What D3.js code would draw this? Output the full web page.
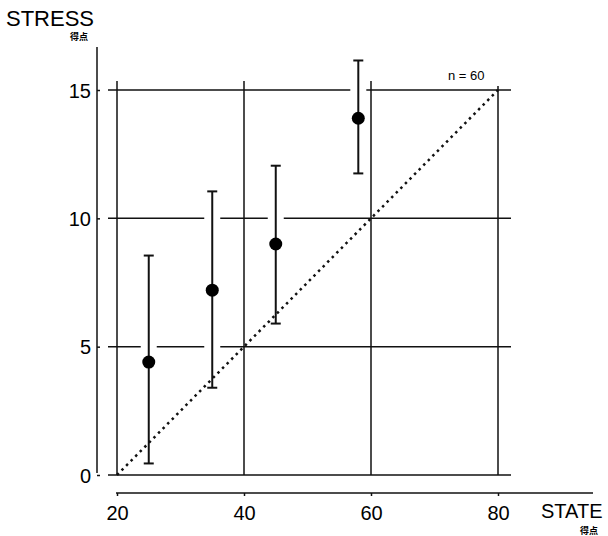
<!DOCTYPE html>
<html><head><meta charset="utf-8">
<script src="https://cdn.jsdelivr.net/npm/d3@7"></script>
<style>body{margin:0;background:#fff}svg{display:block}text{font-family:"Liberation Sans",Arial,sans-serif;fill:#000}</style>
</head><body>
<svg id="c" width="608" height="536"></svg>
<script>
const stateVals = [25, 35, 45, 58];
const stressMean = [4.4, 7.2, 9.0, 13.9];
const stressLow = [0.45, 3.4, 5.9, 11.75];
const stressHigh = [8.55, 11.05, 12.05, 16.15];
const xTicks = [20, 40, 60, 80];
const yTicks = [0, 5, 10, 15];
const sampleNote = "n = 60";

const svg = d3.select("#c");
const x = d3.scaleLinear().domain([20, 80]).range([117, 498]);
const y = d3.scaleLinear().domain([0, 15]).range([475, 90]);

// horizontal grid lines
svg.append("g").selectAll("line").data(yTicks).join("line")
  .attr("x1", 108).attr("x2", 511)
  .attr("y1", d => y(d)).attr("y2", d => y(d))
  .attr("stroke", "#111").attr("stroke-width", 1.5);
// vertical grid lines
svg.append("g").selectAll("line").data(xTicks).join("line")
  .attr("x1", d => x(d)).attr("x2", d => x(d))
  .attr("y1", d => d === 80 ? 86 : 81).attr("y2", y(0))
  .attr("stroke", "#111").attr("stroke-width", 1.5);

// left axis
const yAxis = d3.axisLeft(y).tickValues(yTicks).tickSize(-3).tickPadding(8);
const ga = svg.append("g").attr("transform", "translate(97,0)").call(yAxis);
ga.select(".domain").attr("d", `M-0,${y(0)-2}V47`).attr("stroke", "#111").attr("stroke-width", 1.5);
ga.selectAll(".tick line").attr("stroke", "#111").attr("stroke-width", 1.5);
ga.selectAll(".tick text").attr("font-size", 20).attr("font-family", "Liberation Sans, Arial, sans-serif").attr("dy", "0.36em").attr("x", -6);

// bottom axis
const xAxis = d3.axisBottom(x).tickValues(xTicks).tickSize(3).tickPadding(10);
const gb = svg.append("g").attr("transform", "translate(0,493)").call(xAxis);
gb.select(".domain").attr("d", "M116,0H593").attr("stroke", "#111").attr("stroke-width", 1.5);
gb.selectAll(".tick line").attr("stroke", "#111").attr("stroke-width", 1.5);
gb.selectAll(".tick text").attr("font-size", 20).attr("font-family", "Liberation Sans, Arial, sans-serif").attr("y", 13).attr("dy", "0.71em");

// white gaps behind error bars
svg.append("g").selectAll("line").data(stateVals).join("line")
  .attr("x1", d => x(d)).attr("x2", d => x(d))
  .attr("y1", (d, i) => y(stressHigh[i])).attr("y2", (d, i) => y(stressLow[i]))
  .attr("stroke", "#fff").attr("stroke-width", 16);

// diagonal
svg.append("line")
  .attr("x1", x(20)).attr("y1", y(0)).attr("x2", x(80)).attr("y2", y(15))
  .attr("stroke", "#111").attr("stroke-width", 2.5).attr("stroke-dasharray", "2.5,4");

// error bars
const eb = svg.append("g").attr("stroke", "#111").attr("stroke-width", 2);
eb.selectAll(".v").data(stateVals).join("line")
  .attr("x1", d => x(d)).attr("x2", d => x(d))
  .attr("y1", (d, i) => y(stressHigh[i])).attr("y2", (d, i) => y(stressLow[i]));
eb.selectAll(".t").data(stateVals).join("line")
  .attr("x1", d => x(d) - 5).attr("x2", d => x(d) + 5)
  .attr("y1", (d, i) => y(stressHigh[i])).attr("y2", (d, i) => y(stressHigh[i]));
eb.selectAll(".b").data(stateVals).join("line")
  .attr("x1", d => x(d) - 5).attr("x2", d => x(d) + 5)
  .attr("y1", (d, i) => y(stressLow[i])).attr("y2", (d, i) => y(stressLow[i]));

// points
svg.append("g").selectAll("circle").data(stateVals).join("circle")
  .attr("cx", d => x(d)).attr("cy", (d, i) => y(stressMean[i])).attr("r", 6.5).attr("fill", "#000");

// labels
svg.append("text").attr("x", 6).attr("y", 26).attr("font-size", 22).text("STRESS");
svg.append("text").attr("x", 70).attr("y", 40).attr("font-size", 9).attr("font-weight", "bold")
  .style("font-family", "Noto Sans CJK JP").text("得点");
svg.append("text").attr("x", 541).attr("y", 518).attr("font-size", 20).text("STATE");
svg.append("text").attr("x", 580).attr("y", 534).attr("font-size", 9).attr("font-weight", "bold")
  .style("font-family", "Noto Sans CJK JP").text("得点");
svg.append("text").attr("x", 448).attr("y", 80).attr("font-size", 13).text(sampleNote);
</script>
</body></html>
